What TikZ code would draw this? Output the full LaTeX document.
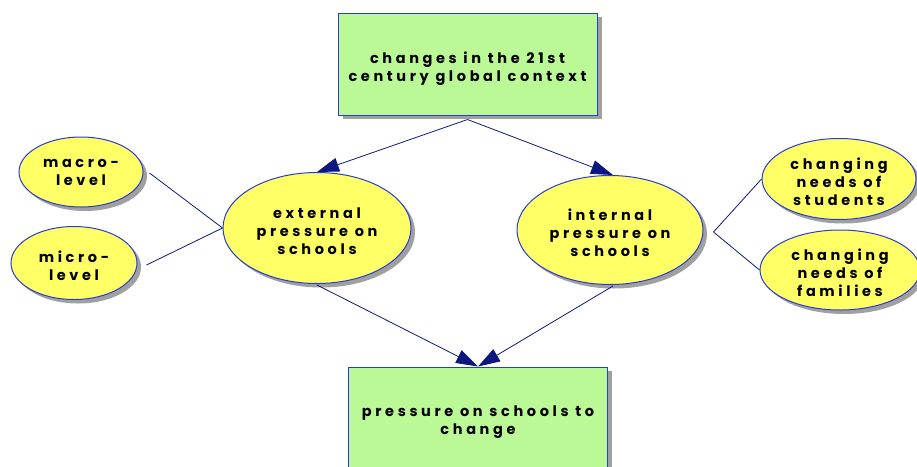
\documentclass[tikz,border=0pt]{standalone}
\usepackage{fontspec}
\setmainfont{Poppins}[UprightFont=* Bold, LetterSpace=25]
\usetikzlibrary{arrows.meta,shapes.geometric,calc}
\definecolor{boxgreen}{RGB}{187,248,150}
\definecolor{bubble}{RGB}{255,255,102}
\definecolor{edge}{RGB}{40,60,210}
\definecolor{link}{RGB}{12,24,128}
\definecolor{shade}{RGB}{160,160,160}
% strut on the first line: sets the text block a little lower in its shape
\newcommand\firstline{\rule{0pt}{18pt}}
\newcommand\toplines{\rule{0pt}{20pt}}
\tikzset{
  x=1pt, y=-1pt,
  every node/.style={font=\fontsize{14.5}{18}\selectfont, align=center, text=black},
  conceptbox/.style={rectangle, draw=edge, fill=boxgreen, line width=1pt,
    minimum width=259pt, minimum height=102pt, inner sep=0pt},
  bubblenode/.style={ellipse, draw=edge, fill=bubble, line width=1pt, inner sep=0pt},
  shadowbox/.style={rectangle, fill=shade, draw=none,
    minimum width=259pt, minimum height=102pt, inner sep=0pt},
  shadowbubble/.style={ellipse, fill=shade, draw=none, inner sep=0pt},
  link/.style={draw=link, line width=0.8pt},
  arrowlink/.style={link, -{Triangle[length=22pt, width=14pt]}},
}
\begin{document}
\begin{tikzpicture}
\useasboundingbox (0,0) rectangle (917,466);
\clip (0,0) rectangle (917,466);

% drop shadows
\node[shadowbox] at (472,68) {};
\node[shadowbox] at (482,422) {};
\node[shadowbubble, minimum width=188pt, minimum height=111pt] at (321,232) {};
\node[shadowbubble, minimum width=186pt, minimum height=109pt] at (614,234) {};
\node[shadowbubble, minimum width=124pt, minimum height=70pt] at (85,176) {};
\node[shadowbubble, minimum width=126pt, minimum height=73pt] at (78,267) {};
\node[shadowbubble, minimum width=154pt, minimum height=81pt] at (843,183) {};
\node[shadowbubble, minimum width=160pt, minimum height=80pt] at (844,274) {};

% concepts
\node[conceptbox] (global) at (467.5,64) {\toplines changes in the 21st\\century global context};
\node[conceptbox] (change) at (478,418) {\firstline pressure on schools to\\change};
\node[bubblenode, minimum width=188pt, minimum height=111pt] (ext) at (317,228)
  {\firstline external\\pressure on\\schools};
\node[bubblenode, minimum width=186pt, minimum height=109pt] (int) at (610,230)
  {\firstline internal\\pressure on\\schools};
\node[bubblenode, minimum width=124pt, minimum height=70pt] (macro) at (81,172)
  {macro-\\level};
\node[bubblenode, minimum width=126pt, minimum height=73pt] (micro) at (74,263)
  {\firstline micro-\\level};
\node[bubblenode, minimum width=154pt, minimum height=81pt] (students) at (839,179)
  {\firstline changing\\needs of\\students};
\node[bubblenode, minimum width=160pt, minimum height=80pt] (families) at (840,270)
  {\firstline changing\\needs of\\families};

% connection points
\coordinate (gsplit) at ($(global.south)+(0,4)$);
\coordinate (msplit) at (ext.west);
\coordinate (isplit) at ($(int.east)+(10,2)$);

% connectors
\draw[arrowlink] (gsplit) -- (ext.north);
\draw[arrowlink] (gsplit) -- ($(int.north)+(3,0)$);
\draw[arrowlink] ($(ext.south)+(0,1)$) -- (change.north);
\draw[arrowlink] ($(int.south)+(3,1)$) -- (change.north);
\draw[link] ($(macro.east)+(6,1)$) -- (msplit);
\draw[link] ($(micro.east)+(9,2)$) -- (msplit);
\draw[link] (isplit) -- (students.west);
\draw[link] (isplit) -- (families.west);
\end{tikzpicture}
\end{document}
